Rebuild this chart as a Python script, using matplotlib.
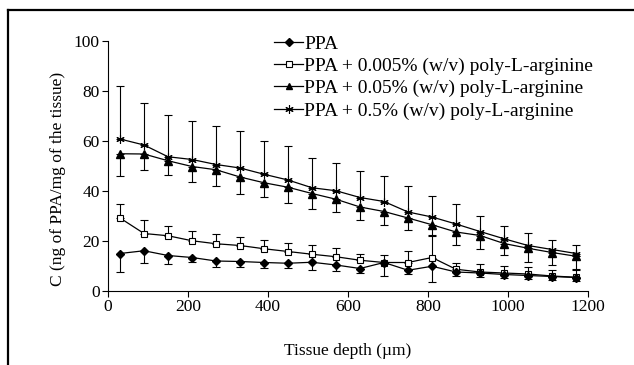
import numpy as np
import matplotlib.pyplot as plt
from matplotlib.lines import Line2D

plt.rcParams['font.family'] = ['Liberation Serif', 'DejaVu Serif']

depth = np.arange(30, 1171, 60)

ppa = [15.0, 16.1, 14.2, 13.4, 12.0, 11.8, 11.4, 11.1, 11.5, 10.4,
       9.0, 11.4, 8.3, 9.9, 7.6, 7.2, 6.6, 6.2, 5.8, 5.4]
ppa_err = [7.4, 4.9, 3.2, 1.9, 2.4, 2.2, 2.2, 1.9, 2.9, 2.5,
           1.6, 5.5, 1.6, 6.3, 1.7, 1.7, 1.3, 1.3, 1.2, 1.2]

p005 = [29.2, 23.0, 22.1, 20.1, 18.9, 18.2, 16.9, 15.8, 14.7, 13.7,
        12.3, 11.4, 11.4, 13.4, 8.7, 7.6, 7.2, 6.8, 6.0, 5.5]
p005_err = [5.8, 5.4, 3.9, 4.0, 4.0, 3.6, 3.6, 3.6, 3.6, 3.6,
            2.7, 3.2, 4.7, 9.0, 2.7, 3.4, 3.0, 2.8, 2.6, 3.2]

p05 = [54.9, 54.8, 52.1, 49.8, 48.5, 45.6, 43.3, 41.5, 39.0, 36.7,
       33.6, 31.8, 29.2, 26.5, 23.6, 22.2, 19.0, 17.1, 15.4, 13.9]
p05_err = [9.0, 6.3, 5.7, 6.1, 6.5, 6.8, 5.6, 6.1, 6.0, 5.0,
           5.0, 5.5, 4.8, 4.5, 5.2, 5.5, 4.7, 5.5, 5.1, 5.6]

p5 = [60.8, 58.4, 53.7, 52.6, 50.6, 49.2, 46.7, 44.4, 41.3, 40.1,
      37.4, 35.8, 31.6, 29.6, 26.8, 23.8, 20.9, 18.2, 16.6, 15.0]
p5_err = [21.4, 17.0, 16.6, 15.6, 15.4, 14.8, 13.5, 13.6, 11.9, 11.0,
          10.5, 10.4, 10.3, 8.6, 7.9, 6.3, 5.2, 5.1, 4.0, 3.4]

labels = ["PPA",
          "PPA + 0.005% (w/v) poly-L-arginine",
          "PPA + 0.05% (w/v) poly-L-arginine",
          "PPA + 0.5% (w/v) poly-L-arginine"]

fig = plt.figure(figsize=(6.34, 3.65), dpi=100)
ax = fig.add_axes([108/634, (365-291)/365, 480/634, 250/365])

zero = np.zeros(len(depth))
ebkw = dict(ecolor='black', elinewidth=0.8, capsize=3, capthick=0.8, lw=0.9, color='black')

# diamonds and triangles show the lower error, squares and stars the upper one
ax.errorbar(depth, p5, yerr=[zero, p5_err], marker=(6, 2, 0), ms=6, mew=0.8, **ebkw)
ax.errorbar(depth, p05, yerr=[p05_err, zero], marker='^', ms=5.5, mfc='black', **ebkw)
ax.errorbar(depth, p005, yerr=[zero, p005_err], marker='s', ms=4.5, mfc='white', mew=0.8, **ebkw)
ax.errorbar(depth, ppa, yerr=[ppa_err, zero], marker='D', ms=4, mfc='black', **ebkw)

ax.set_xlim(0, 1200)
ax.set_ylim(0, 100)
ax.set_xticks(np.arange(0, 1201, 200))
ax.set_yticks(np.arange(0, 101, 20))
for s in ['top', 'right']:
    ax.spines[s].set_visible(False)
for s in ['left', 'bottom']:
    ax.spines[s].set_linewidth(0.8)
ax.tick_params(direction='out', length=4, width=0.8, labelsize=12.5, pad=2)
ax.set_xlabel("Tissue depth (µm)", fontsize=12.5, labelpad=20)
ax.set_ylabel("C (ng of PPA/mg of the tissue)", fontsize=12.5)
ax.yaxis.set_label_coords(-0.088, 0.45)

handles = [
    Line2D([], [], color='black', lw=0.9, marker='D', ms=4, mfc='black'),
    Line2D([], [], color='black', lw=0.9, marker='s', ms=4, mfc='white', mew=0.8),
    Line2D([], [], color='black', lw=0.9, marker='^', ms=5, mfc='black'),
    Line2D([], [], color='black', lw=0.9, marker=(6, 2, 0), ms=6, mew=0.8),
]
fig.legend(handles, labels, loc='upper left', bbox_to_anchor=(274/634, 1 - 35/365),
           frameon=False, fontsize=14, handlelength=1.5, handletextpad=0.05,
           labelspacing=0.24, borderaxespad=0, borderpad=0)

# partial frame around the figure
fig.add_artist(Line2D([8/634, 1], [1 - 10/365, 1 - 10/365], color='black', lw=1.6))
fig.add_artist(Line2D([8/634, 8/634], [0, 1 - 10/365], color='black', lw=1.6))

fig.savefig("out.png", dpi=100)
